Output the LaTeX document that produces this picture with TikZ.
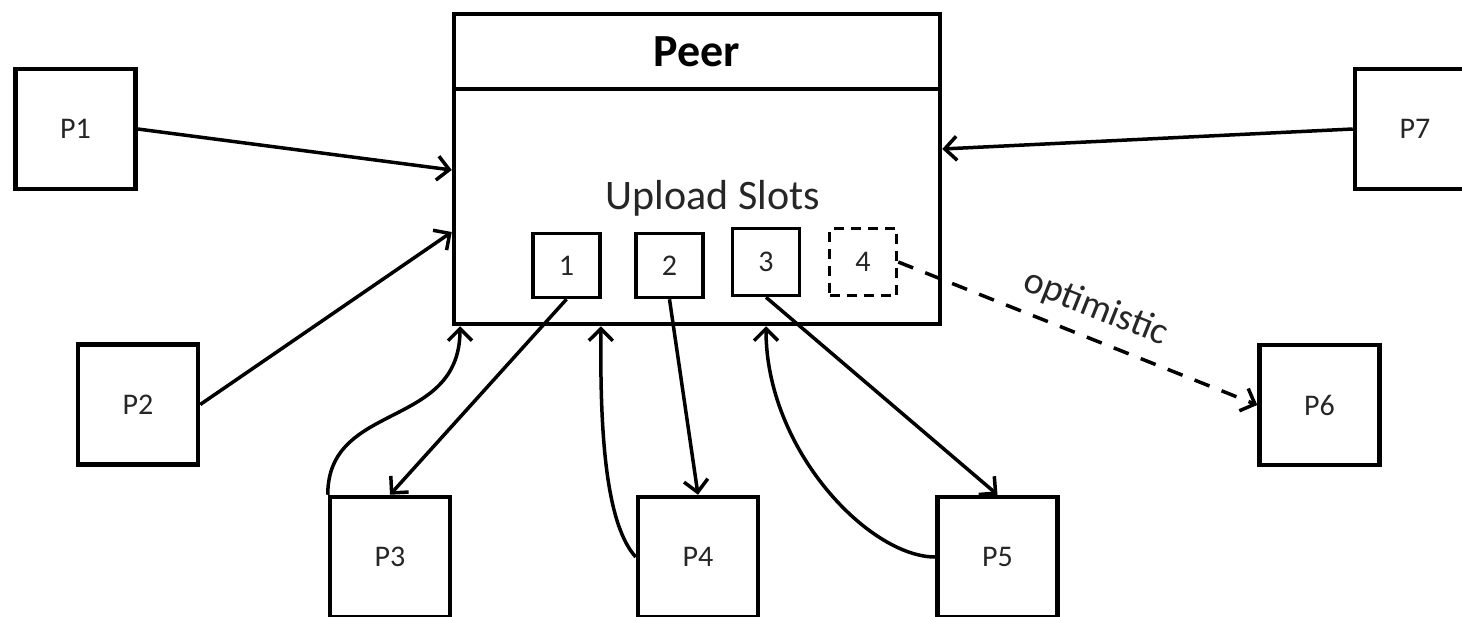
\documentclass[tikz,border=0pt]{standalone}
\usepackage{fontspec}
\setmainfont{Carlito}
\usetikzlibrary{arrows.meta}
\begin{document}
\begin{tikzpicture}[x=1pt,y=-1pt,
  pbox/.style={draw, line width=4.5pt, minimum width=120pt, minimum height=120pt, inner sep=0pt, font=\fontsize{30}{36}\selectfont, text=black!85},
  slotbox/.style={draw, line width=3.5pt, minimum width=67pt, minimum height=64pt, inner sep=0pt, font=\fontsize{30}{36}\selectfont, text=black!85},
  conn/.style={line width=3.5pt, -{Straight Barb[length=12pt,width=24pt]}},
  dconn/.style={conn, dash pattern=on 16pt off 13pt},
  peerbox/.style={draw, line width=4.5pt, minimum width=486pt, minimum height=310pt, inner sep=0pt},
]
\clip (0,0) rectangle (1462,616);
% main peer box
\node[peerbox] (peer) at (697,169) {};
\draw[line width=4.5pt] (peer.west |- {(0,89)}) -- (peer.east |- {(0,89)});
\node[font=\bfseries\fontsize{46}{50}\selectfont] (title) at (697,52) {Peer};
\node[font=\fontsize{42}{48}\selectfont, text=black!85] (upl) at (713,198) {Upload Slots};
% slots
\node[slotbox] (s1) at (566.5,265.5) {1};
\node[slotbox] (s2) at (669.5,265.5) {2};
\node[slotbox, minimum height=67pt] (s3) at (766,262) {3};
\node[slotbox, minimum height=67pt, dash pattern=on 10pt off 7pt] (s4) at (863,262) {4};
% peers
\node[pbox] (p1) at (75.5,129) {P1};
\node[pbox] (p2) at (138,404.5) {P2};
\node[pbox] (p3) at (390,557) {P3};
\node[pbox] (p4) at (698,557) {P4};
\node[pbox] (p5) at (997.5,557) {P5};
\node[pbox] (p6) at (1319.5,405) {P6};
\node[pbox] (p7) at (1415,129) {P7};
% connectors
\draw[conn] (p1.east) -- (peer.west |- {(0,170)});
\draw[conn] (p2.east) -- (peer.west |- {(0,232)});
\draw[conn] (p7.west) -- (peer.east |- {(0,149)});
\draw[conn] (s1.south) -- (p3.north);
\draw[conn] (s2.south) -- (p4.north);
\draw[conn] (s3.south) -- (p5.north);
\draw[conn] (p3.north west) .. controls +(0,-94) and (460,430) .. (peer.south -| {(460,0)});
\draw[conn] (p4.west) .. controls +(-32,-35) and (600,420) .. (peer.south -| {(601,0)});
\draw[conn] (p5.west) .. controls +(-66,0) and (766,450) .. (peer.south -| {(766,0)});
\draw[dconn] (s4.east) -- node[sloped, above=9pt, pos=0.52, font=\fontsize{38}{44}\selectfont, text=black!85] (optl) {optimistic} (p6.west);
\end{tikzpicture}
\end{document}
